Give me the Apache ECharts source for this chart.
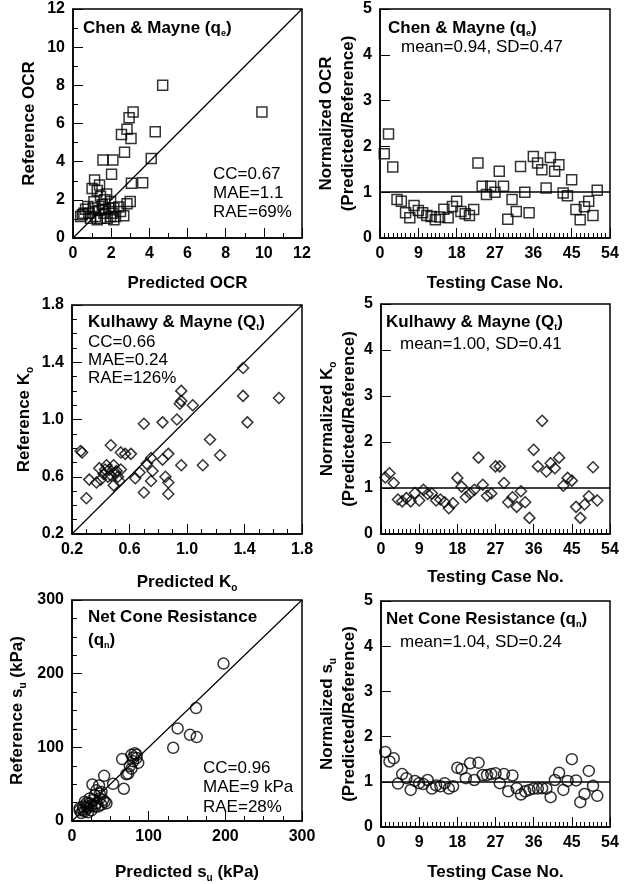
<!DOCTYPE html>
<html>
<head>
<meta charset="utf-8">
<script src="https://cdn.jsdelivr.net/npm/echarts@6/dist/echarts.min.js"></script>
<style>
html, body { margin: 0; padding: 0; background: #fff; }
#chart { width: 629px; height: 884px; }
</style>
</head>
<body>
<div id="chart"></div>
<script>
// OCR, Chen & Mayne (qe)
var ocrPredicted = [4.7, 9.9, 3.15, 2.94, 2.83, 2.54, 3.04, 4.31, 2.7, 1.57, 2.09, 4.1, 2.02, 3.06, 3.65, 1.13, 1.0,
  1.39, 1.27, 1.76, 1.44, 1.67, 1.97, 3.0, 2.83, 2.4, 2.66, 0.49, 0.66, 0.83, 1.06, 1.18, 1.36, 1.53, 1.62, 1.79,
  1.88, 2.05, 2.14, 1.44, 0.92, 0.57, 1.1, 2.14, 2.49, 0.78, 1.27, 1.7, 1.97, 0.4, 2.23]
var ocrReference = [8.0, 6.6, 6.6, 6.3, 5.7, 5.43, 5.22, 5.57, 4.49, 4.09, 4.09, 4.16, 3.34, 2.87, 2.9, 3.04, 2.6,
  2.78, 2.49, 2.31, 2.17, 2.0, 1.91, 1.91, 1.79, 1.62, 1.17, 1.22, 1.51, 1.3, 1.57, 1.13, 1.44, 1.74, 1.3, 1.04,
  1.57, 1.3, 0.96, 1.04, 1.04, 1.3, 1.9, 1.57, 1.39, 1.65, 0.96, 1.51, 1.13, 1.13, 1.13]
var ocrNormalized = [1.84, 2.27, 1.55, 0.84, 0.8, 0.55, 0.44, 0.71, 0.6, 0.55, 0.49, 0.47, 0.4, 0.46, 0.63, 0.44,
  0.69, 0.8, 0.58, 0.53, 0.49, 0.62, 1.64, 1.13, 0.95, 1.13, 1.0, 1.46, 1.13, 0.41, 0.84, 0.58, 1.56, 1.0, 0.55,
  1.78, 1.64, 1.49, 1.09, 1.76, 1.46, 1.6, 0.98, 0.92, 1.27, 0.62, 0.4, 0.68, 0.8, 0.49, 1.04]

// Ko, Kulhawy & Mayne (Qt)
var koPredicted = [1.39, 1.39, 1.64, 1.42, 0.96, 0.96, 0.95, 1.04, 0.93, 0.83, 0.70, 1.16, 1.23, 1.11, 0.96, 0.87,
  0.83, 0.75, 0.72, 0.67, 0.76, 0.75, 0.64, 0.85, 0.87, 0.87, 0.70, 0.47, 0.26, 0.27, 0.30, 0.32, 0.37, 0.54, 0.57,
  0.61, 0.39, 0.42, 0.44, 0.46, 0.49, 0.50, 0.52, 0.54, 0.49, 0.45, 0.43, 0.47, 0.40, 0.51, 0.53]
var koReference = [1.36, 1.165, 1.15, 0.98, 1.2, 1.13, 1.11, 1.1, 1.0, 0.98, 0.97, 0.86, 0.75, 0.68, 0.68, 0.76,
  0.72, 0.73, 0.69, 0.63, 0.64, 0.57, 0.59, 0.6, 0.56, 0.48, 0.49, 0.82, 0.78, 0.77, 0.45, 0.58, 0.56, 0.77, 0.76,
  0.76, 0.66, 0.62, 0.68, 0.65, 0.68, 0.63, 0.6, 0.65, 0.54, 0.6, 0.65, 0.61, 0.58, 0.64, 0.57]
var koNormalized = [1.23, 1.32, 1.11, 0.75, 0.71, 0.78, 0.71, 0.89, 0.73, 0.96, 0.87, 0.88, 0.73, 0.75, 0.69, 0.56,
  0.67, 1.22, 1.03, 0.8, 0.88, 0.96, 1.66, 1.07, 0.83, 0.88, 1.47, 1.47, 1.11, 0.69, 0.8, 0.59, 0.93, 0.69, 0.35,
  1.83, 1.47, 2.46, 1.36, 1.54, 1.43, 1.66, 1.05, 1.22, 1.16, 0.59, 0.35, 0.64, 0.82, 1.45, 0.73]

// su, Net Cone Resistance (qn)
var suPredicted = [197.6, 161.8, 137.8, 153.9, 162.7, 132, 65.4, 77.6, 81.9, 84.2, 79.8, 75.4, 73.3, 77.6, 86.3, 84.2,
  67.6, 53.6, 41.9, 26.6, 35.3, 38.4, 36.2, 42.7, 34, 31.8, 27.5, 23.1, 18.8, 14.4, 12.2, 16.6, 20.7, 25.3, 29.7,
  36.2, 40.5, 44.9, 10, 23.1, 29.7, 18.8, 14.4, 10, 79.8, 71, 31.8, 25.3, 38.4, 16.6, 20.9]
var suReference = [213.7, 153.3, 125.7, 117, 113.9, 99.4, 84.1, 89.8, 92, 85.4, 81, 74.5, 64.4, 71, 78.8, 89.8,
  43.8, 50.4, 61.3, 49.5, 48.2, 39.4, 30.7, 26.3, 19.7, 24.1, 28.5, 24.1, 19.7, 15.3, 10.9, 13.1, 17.5, 21, 35,
  37.2, 28.5, 24.1, 17.5, 30.7, 19.7, 24.1, 19.7, 14.5, 86.3, 63.5, 41.6, 14.5, 21.9, 26.3, 11.8]
var suNormalized = [1.66, 1.45, 1.52, 0.96, 1.17, 1.08, 0.82, 1.02, 0.97, 0.95, 1.04, 0.85, 0.92, 0.9, 0.97, 0.85,
  0.9, 1.31, 1.28, 1.08, 1.41, 1.04, 1.42, 1.15, 1.15, 1.17, 1.19, 0.97, 1.17, 0.79, 1.14, 0.86, 0.72, 0.79, 0.82,
  0.85, 0.85, 0.86, 0.85, 0.66, 1.04, 1.2, 0.82, 1.02, 1.5, 1.03, 0.55, 0.73, 1.24, 0.91, 0.69]

var font = '"Liberation Sans", Arial, Helvetica, sans-serif'

var richName = {
  n: { fontFamily: font, fontWeight: 'bold', fontSize: 17, color: '#000', lineHeight: 22 },
  s: { fontFamily: font, fontWeight: 'bold', fontSize: 10, color: '#000', lineHeight: 10, verticalAlign: 'bottom' }
}

function pairs(xs, ys) {
  return xs.map(function (x, i) { return [x, ys[i]] })
}

function cases(vals) {
  return vals.map(function (v, i) { return [i + 1, v] })
}

function makeAxis(gi, min, max, interval, minorSplit, name, gap, fmt) {
  var a = {
    type: 'value',
    gridIndex: gi,
    min: min,
    max: max,
    interval: interval,
    name: name,
    nameLocation: 'middle',
    nameGap: gap,
    nameTextStyle: { fontFamily: font, fontWeight: 'bold', fontSize: 17, color: '#000', lineHeight: 22, rich: richName },
    axisLine: { show: true, onZero: false, lineStyle: { color: '#000', width: 1.5 } },
    axisTick: { show: true, inside: true, length: 10 },
    axisLabel: { fontFamily: font, fontWeight: 'bold', fontSize: 16, color: '#000' },
    splitLine: { show: false }
  }
  if (minorSplit > 0) a.minorTick = { show: true, splitNumber: minorSplit, length: 5 }
  if (fmt) a.axisLabel.formatter = fmt
  return a
}

function fix1(v) { return v.toFixed(1) }

var grids = [
  { left: 73, top: 9, width: 229, height: 229 },
  { left: 380, top: 9, width: 230, height: 229 },
  { left: 72, top: 305, width: 230, height: 229 },
  { left: 381, top: 304, width: 229, height: 230 },
  { left: 72, top: 600, width: 230, height: 228 },
  { left: 381, top: 601, width: 229, height: 229 }
]
grids.forEach(function (g) {
  g.show = true
  g.borderColor = '#000'
  g.borderWidth = 1.5
})

var xAxes = [
  makeAxis(0, 0, 12, 2, 2, 'Predicted OCR', 34),
  makeAxis(1, 0, 54, 9, 9, 'Testing Case No.', 34),
  makeAxis(2, 0.2, 1.8, 0.4, 4, '{n|Predicted K}{s|o}', 37, fix1),
  makeAxis(3, 0, 54, 9, 9, 'Testing Case No.', 32),
  makeAxis(4, 0, 300, 100, 4, '{n|Predicted s}{s|u}{n| (kPa)}', 40),
  makeAxis(5, 0, 54, 9, 9, 'Testing Case No.', 34)
]
var yAxes = [
  makeAxis(0, 0, 12, 2, 2, 'Reference OCR', 33),
  makeAxis(1, 0, 5, 1, 0, 'Normalized OCR\n(Predicted/Reference)', 21),
  makeAxis(2, 0.2, 1.8, 0.4, 4, '{n|Reference K}{s|o}', 37, fix1),
  makeAxis(3, 0, 5, 1, 0, '{n|Normalized K}{s|o}\n{n|(Predicted/Reference)}', 21),
  makeAxis(4, 0, 300, 100, 4, '{n|Reference s}{s|u}{n| (kPa)}', 44),
  makeAxis(5, 0, 5, 1, 0, '{n|Normalized s}{s|u}\n{n|(Predicted/Reference)}', 21)
]

function scatter(gi, symbol, size, data) {
  return {
    type: 'scatter',
    xAxisIndex: gi,
    yAxisIndex: gi,
    symbol: symbol,
    symbolSize: size,
    data: data,
    itemStyle: { color: 'transparent', borderColor: '#000', borderWidth: 1.5 }
  }
}

function diagonal(gi, min, max) {
  return {
    type: 'line',
    xAxisIndex: gi,
    yAxisIndex: gi,
    data: [[min, min], [max, max]],
    symbol: 'none',
    lineStyle: { color: '#000', width: 1.2 }
  }
}

function unityLine(s) {
  s.markLine = {
    symbol: ['none', 'none'],
    label: { show: false },
    lineStyle: { color: '#000', width: 1.5, type: 'solid' },
    data: [{ yAxis: 1 }]
  }
  return s
}

var series = [
  diagonal(0, 0, 12),
  scatter(0, 'rect', 10, pairs(ocrPredicted, ocrReference)),
  unityLine(scatter(1, 'rect', 10, cases(ocrNormalized))),
  diagonal(2, 0.2, 1.8),
  scatter(2, 'diamond', 11, pairs(koPredicted, koReference)),
  unityLine(scatter(3, 'diamond', 11, cases(koNormalized))),
  diagonal(4, 0, 300),
  scatter(4, 'circle', 11, pairs(suPredicted, suReference)),
  unityLine(scatter(5, 'circle', 11, cases(suNormalized)))
]

var richSub = {
  b: { fontFamily: font, fontWeight: 'bold', fontSize: 17, color: '#000', lineHeight: 20 },
  s: { fontFamily: font, fontWeight: 'bold', fontSize: 9, color: '#000', lineHeight: 9, verticalAlign: 'bottom' }
}

// in-plot annotations as title components; y is the text's centre line
function note(x, y, text, bold) {
  return {
    text: text,
    left: x,
    top: y - 10,
    padding: 0,
    textStyle: {
      fontFamily: font,
      fontWeight: bold ? 'bold' : 'normal',
      fontSize: 17,
      color: '#000',
      lineHeight: 20,
      rich: richSub
    }
  }
}

var notes = [
  note(83, 28, '{b|Chen & Mayne (q}{s|e}{b|)}', true),
  note(213, 174, 'CC=0.67'),
  note(213, 193, 'MAE=1.1'),
  note(213, 212, 'RAE=69%'),
  note(388, 28, '{b|Chen & Mayne (q}{s|e}{b|)}', true),
  note(401, 47, 'mean=0.94, SD=0.47'),
  note(88, 322, '{b|Kulhawy & Mayne (Q}{s|t}{b|)}', true),
  note(88, 342, 'CC=0.66'),
  note(88, 360, 'MAE=0.24'),
  note(88, 378, 'RAE=126%'),
  note(386, 322, '{b|Kulhawy & Mayne (Q}{s|t}{b|)}', true),
  note(400, 344, 'mean=1.00, SD=0.41'),
  note(88, 617, '{b|Net Cone Resistance}', true),
  note(88, 640, '{b|(q}{s|n}{b|)}', true),
  note(203, 768, 'CC=0.96'),
  note(203, 787, 'MAE=9 kPa'),
  note(203, 807, 'RAE=28%'),
  note(386, 619, '{b|Net Cone Resistance (q}{s|n}{b|)}', true),
  note(400, 642, 'mean=1.04, SD=0.24')
]

var chart = echarts.init(document.getElementById('chart'))
chart.setOption({
  animation: false,
  title: notes,
  grid: grids,
  xAxis: xAxes,
  yAxis: yAxes,
  series: series
})
</script>
</body>
</html>
